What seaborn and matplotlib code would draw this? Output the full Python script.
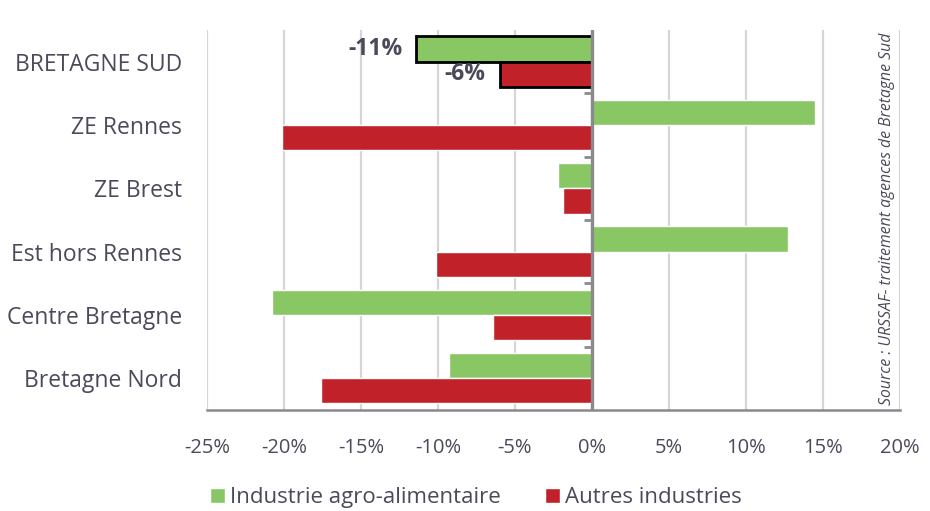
import matplotlib
matplotlib.use('Agg')
import matplotlib.pyplot as plt
import seaborn as sns
import pandas as pd

# values (share change, %)
zones = ['BRETAGNE SUD', 'ZE Rennes', 'ZE Brest', 'Est hors Rennes',
         'Centre Bretagne', 'Bretagne Nord']
agro = [-11.4, 14.5, -2.2, 12.7, -20.8, -9.3]
autres = [-6.0, -20.1, -1.9, -10.1, -6.4, -17.6]
series = ['Industrie agro-alimentaire', 'Autres industries']
x_ticks = [-25, -20, -15, -10, -5, 0, 5, 10, 15, 20]
labels_sud = ['-11%', '-6%']

green = '#89c765'
red = '#c1222a'
text_col = '#4b4a5a'
axis_col = '#8a8a8e'

df = pd.DataFrame({
    'zone': zones * 2,
    'value': agro + autres,
    'serie': [series[0]] * len(zones) + [series[1]] * len(zones),
})

sns.set_style('white')
plt.rcParams['font.family'] = ['Open Sans', 'DejaVu Sans']

fig = plt.figure(figsize=(9.3, 5.11), dpi=100)
ax = fig.add_axes([0.2226, 0.198, 0.7451, 0.743])

sns.barplot(data=df, y='zone', x='value', hue='serie', orient='h',
            palette=[green, red], width=0.8, order=zones, hue_order=series,
            saturation=1, ax=ax, legend=True)

ax.set_xlim(-25, 20)
ax.set_ylim(len(zones) - 0.5, -0.5)
ax.set_xticks(x_ticks)
ax.set_xticklabels([f'{t}%' for t in x_ticks])
ax.grid(axis='x', color='#d6d6d6', linewidth=1.6)
ax.set_axisbelow(True)
ax.set_xlabel('')
ax.set_ylabel('')

for s in ['top', 'right', 'left']:
    ax.spines[s].set_visible(False)
ax.spines['bottom'].set_color(axis_col)
ax.spines['bottom'].set_linewidth(1.8)
ax.tick_params(axis='x', length=7, width=1.8, color=axis_col,
               labelsize=14.5, labelcolor=text_col, pad=13)
ax.tick_params(axis='y', length=0, labelsize=16.5, labelcolor=text_col, pad=18)

# vertical axis at 0 with ticks between categories
ax.axvline(0, color=axis_col, linewidth=2.4, zorder=4)
sec = ax.secondary_yaxis(25 / 45)
sec.set_alignment('left')
sec.set_yticks([i + 0.5 for i in range(len(zones) - 1)])
sec.set_yticklabels([])
sec.spines['left'].set_visible(False)
sec.spines['right'].set_visible(False)
sec.tick_params(axis='y', which='major', direction='out', length=6,
                width=2, color=axis_col)

# highlight BRETAGNE SUD bars
for cont, lab, off in zip(ax.containers, labels_sud, [-14, -14]):
    bar = cont[0]
    bar.set_edgecolor('black')
    bar.set_linewidth(2)
    left = min(bar.get_x(), bar.get_x() + bar.get_width())
    ax.annotate(lab, (left, bar.get_y() + bar.get_height() / 2),
                xytext=(off, 0), textcoords='offset pixels', ha='right',
                va='center', fontsize=16.5, fontweight='bold', color=text_col)

leg = ax.legend(loc='center', bbox_to_anchor=(0.512, 0.026),
                bbox_transform=fig.transFigure, ncol=2, frameon=False,
                fontsize=16, handlelength=0.65, handleheight=0.65,
                handletextpad=0.25, columnspacing=2.0)
for t in leg.get_texts():
    t.set_color(text_col)

fig.text(887 / 930, 1 - 33 / 511, 'Source : URSSAF- traitement agences de Bretagne Sud',
         rotation=90, ha='center', va='top', fontsize=11.3, style='italic',
         color=text_col)

fig.savefig('out.png', dpi=100)
